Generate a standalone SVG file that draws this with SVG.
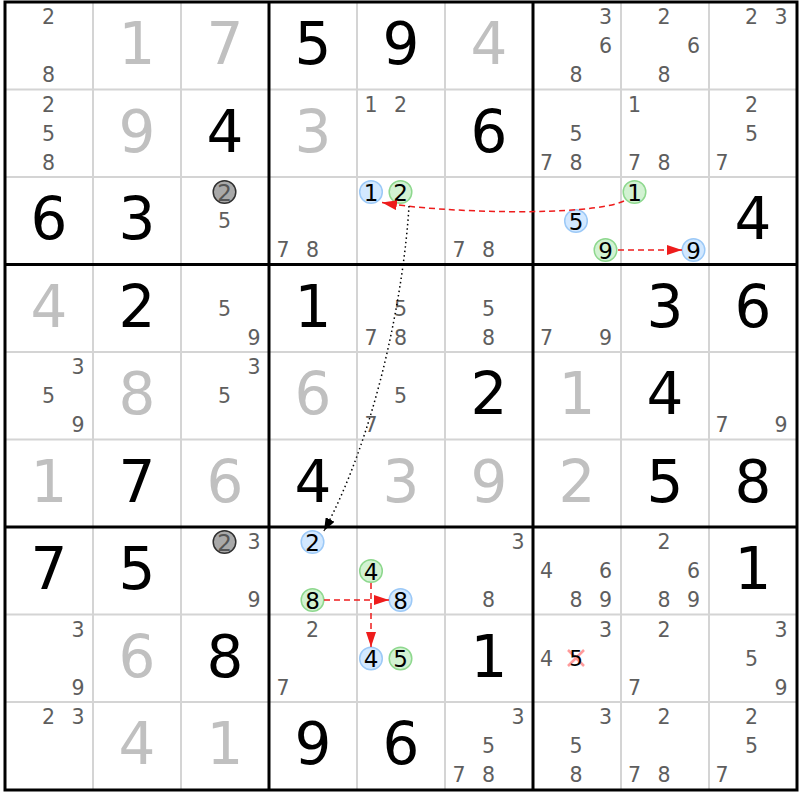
<svg xmlns="http://www.w3.org/2000/svg" width="800" height="800" viewBox="0 0 800 800">
<style>
text{font-family:"DejaVu Sans","Liberation Sans",sans-serif;text-anchor:middle}
.g{font-size:58px;fill:#c0c0c0}
.s{font-size:58px;fill:#000}
.c{font-size:20.5px;fill:#5e5e5e}
.k{font-size:23px;fill:#000}
.thin{stroke:#d4d4d4;stroke-width:2}
.thick{stroke:#000;stroke-width:3}
.bl{fill:#d2e8ff;stroke:#9cc9f7;stroke-width:1.5}
.gr{fill:#d2f2d2;stroke:#8ed88e;stroke-width:1.5}
.gy{fill:#a9a9a9;stroke:#303030;stroke-width:1.5}
.red{fill:none;stroke:#ee1c1c;stroke-width:1.5;stroke-dasharray:6,4}
.dot{fill:none;stroke:#000;stroke-width:1.5;stroke-dasharray:1.5,3}
</style>
<defs>
<marker id="ar" markerUnits="userSpaceOnUse" markerWidth="16" markerHeight="10" refX="15" refY="5" orient="auto"><path d="M0,0 L15,5 L0,10 z" fill="#ee1c1c"/></marker>
<marker id="ab" markerUnits="userSpaceOnUse" markerWidth="14" markerHeight="10" refX="13" refY="5" orient="auto"><path d="M0,0 L13,5 L0,10 z" fill="#000"/></marker>
</defs>
<rect x="0" y="0" width="800" height="800" fill="#fff"/>
<g id="grid">
<g class="thin">
<line x1="93" y1="2" x2="93" y2="790"/><line x1="181" y1="2" x2="181" y2="790"/>
<line x1="357" y1="2" x2="357" y2="790"/><line x1="445" y1="2" x2="445" y2="790"/>
<line x1="621" y1="2" x2="621" y2="790"/><line x1="709" y1="2" x2="709" y2="790"/>
<line x1="5" y1="89.5" x2="797" y2="89.5"/><line x1="5" y1="177" x2="797" y2="177"/>
<line x1="5" y1="352" x2="797" y2="352"/><line x1="5" y1="439.5" x2="797" y2="439.5"/>
<line x1="5" y1="614.5" x2="797" y2="614.5"/><line x1="5" y1="702" x2="797" y2="702"/>
</g>
<g class="thick">
<line x1="269" y1="2" x2="269" y2="790"/><line x1="533" y1="2" x2="533" y2="790"/>
<line x1="5" y1="264.5" x2="797" y2="264.5"/><line x1="5" y1="527" x2="797" y2="527"/>
<rect x="5" y="2" width="792" height="788" fill="none"/>
</g>
</g>
<g id="r0">
<text class="c" x="48.5" y="24">2</text><text class="c" x="48.5" y="82">8</text>
<text class="g" x="137" y="64">1</text><text class="g" x="225" y="64">7</text>
<text class="s" x="313" y="64">5</text><text class="s" x="401" y="64">9</text>
<text class="g" x="489" y="64">4</text>
<text class="c" x="605.5" y="24">3</text><text class="c" x="605.5" y="53">6</text><text class="c" x="576" y="82">8</text>
<text class="c" x="664" y="24">2</text><text class="c" x="693.5" y="53">6</text><text class="c" x="664" y="82">8</text>
<text class="c" x="751.5" y="24">2</text><text class="c" x="781" y="24">3</text>
</g>
<g id="r1">
<text class="c" x="48.5" y="111.5">2</text><text class="c" x="48.5" y="140.5">5</text><text class="c" x="48.5" y="169.5">8</text>
<text class="g" x="137" y="151.5">9</text><text class="s" x="225" y="151.5">4</text>
<text class="g" x="313" y="151.5">3</text>
<text class="c" x="371" y="111.5">1</text><text class="c" x="400.5" y="111.5">2</text>
<text class="s" x="489" y="151.5">6</text>
<text class="c" x="576" y="140.5">5</text><text class="c" x="546.5" y="169.5">7</text><text class="c" x="576" y="169.5">8</text>
<text class="c" x="634.5" y="111.5">1</text><text class="c" x="634.5" y="169.5">7</text><text class="c" x="664" y="169.5">8</text>
<text class="c" x="751.5" y="111.5">2</text><text class="c" x="751.5" y="140.5">5</text><text class="c" x="722" y="169.5">7</text>
</g>
<g id="r2">
<text class="s" x="49" y="239">6</text><text class="s" x="137" y="239">3</text>
<circle class="gy" cx="224.5" cy="192" r="11.3"/><text class="k" x="224.5" y="200.5" fill="#555" style="fill:#555">2</text>
<text class="c" x="224.5" y="228">5</text>
<text class="c" x="283" y="257">7</text><text class="c" x="312.5" y="257">8</text>
<circle class="bl" cx="371" cy="192" r="11.3"/><text class="k" x="371" y="200.5">1</text>
<circle class="gr" cx="400.5" cy="192" r="11.3"/><text class="k" x="400.5" y="200.5">2</text>
<text class="c" x="459" y="257">7</text><text class="c" x="488.5" y="257">8</text>
<circle class="bl" cx="576" cy="221" r="11.3"/><text class="k" x="576" y="229.5">5</text>
<circle class="gr" cx="605.5" cy="250" r="11.3"/><text class="k" x="605.5" y="258.5">9</text>
<circle class="gr" cx="634.5" cy="192" r="11.3"/><text class="k" x="634.5" y="200.5">1</text>
<circle class="bl" cx="693.5" cy="250" r="11.3"/><text class="k" x="693.5" y="258.5">9</text>
<text class="s" x="753" y="239">4</text>
</g>
<g id="r3">
<text class="g" x="49" y="326.5">4</text><text class="s" x="137" y="326.5">2</text>
<text class="c" x="224.5" y="315.5">5</text><text class="c" x="254" y="344.5">9</text>
<text class="s" x="313" y="326.5">1</text>
<text class="c" x="400.5" y="315.5">5</text><text class="c" x="371" y="344.5">7</text><text class="c" x="400.5" y="344.5">8</text>
<text class="c" x="488.5" y="315.5">5</text><text class="c" x="488.5" y="344.5">8</text>
<text class="c" x="546.5" y="344.5">7</text><text class="c" x="605.5" y="344.5">9</text>
<text class="s" x="665" y="326.5">3</text><text class="s" x="753" y="326.5">6</text>
</g>
<g id="r4">
<text class="c" x="78" y="374">3</text><text class="c" x="48.5" y="403">5</text><text class="c" x="78" y="432">9</text>
<text class="g" x="137" y="414">8</text>
<text class="c" x="254" y="374">3</text><text class="c" x="224.5" y="403">5</text>
<text class="g" x="313" y="414">6</text>
<text class="c" x="400.5" y="403">5</text><text class="c" x="371" y="432">7</text>
<text class="s" x="489" y="414">2</text><text class="g" x="577" y="414">1</text>
<text class="s" x="665" y="414">4</text>
<text class="c" x="722" y="432">7</text><text class="c" x="781" y="432">9</text>
</g>
<g id="r5">
<text class="g" x="49" y="501.5">1</text><text class="s" x="137" y="501.5">7</text>
<text class="g" x="225" y="501.5">6</text><text class="s" x="313" y="501.5">4</text>
<text class="g" x="401" y="501.5">3</text><text class="g" x="489" y="501.5">9</text>
<text class="g" x="577" y="501.5">2</text><text class="s" x="665" y="501.5">5</text>
<text class="s" x="753" y="501.5">8</text>
</g>
<g id="r6">
<text class="s" x="49" y="589">7</text><text class="s" x="137" y="589">5</text>
<circle class="gy" cx="224.5" cy="542" r="11.3"/><text class="k" x="224.5" y="550.5" style="fill:#555">2</text>
<text class="c" x="254" y="549">3</text><text class="c" x="254" y="607">9</text>
<circle class="bl" cx="312.5" cy="542" r="11.3"/><text class="k" x="312.5" y="550.5">2</text>
<circle class="gr" cx="312.5" cy="600" r="11.3"/><text class="k" x="312.5" y="608.5">8</text>
<circle class="gr" cx="371" cy="571" r="11.3"/><text class="k" x="371" y="579.5">4</text>
<circle class="bl" cx="400.5" cy="600" r="11.3"/><text class="k" x="400.5" y="608.5">8</text>
<text class="c" x="518" y="549">3</text><text class="c" x="488.5" y="607">8</text>
<text class="c" x="546.5" y="578">4</text><text class="c" x="605.5" y="578">6</text><text class="c" x="576" y="607">8</text><text class="c" x="605.5" y="607">9</text>
<text class="c" x="664" y="549">2</text><text class="c" x="693.5" y="578">6</text><text class="c" x="664" y="607">8</text><text class="c" x="693.5" y="607">9</text>
<text class="s" x="753" y="589">1</text>
</g>
<g id="r7">
<text class="c" x="78" y="636.5">3</text><text class="c" x="78" y="694.5">9</text>
<text class="g" x="137" y="676.5">6</text><text class="s" x="225" y="676.5">8</text>
<text class="c" x="312.5" y="636.5">2</text><text class="c" x="283" y="694.5">7</text>
<circle class="bl" cx="371" cy="658.5" r="11.3"/><text class="k" x="371" y="667">4</text>
<circle class="gr" cx="400.5" cy="658.5" r="11.3"/><text class="k" x="400.5" y="667">5</text>
<text class="s" x="489" y="676.5">1</text>
<text class="c" x="605.5" y="636.5">3</text><text class="c" x="546.5" y="665.5">4</text>
<g id="elim"><path d="M568,650 L584,666 M584,650 L568,666" stroke="#ff8a8a" stroke-width="2.5" opacity="0.85"/><text class="k" x="576" y="666" style="font-size:21.5px">5</text></g>
<text class="c" x="664" y="636.5">2</text><text class="c" x="634.5" y="694.5">7</text>
<text class="c" x="781" y="636.5">3</text><text class="c" x="751.5" y="665.5">5</text><text class="c" x="781" y="694.5">9</text>
</g>
<g id="r8">
<text class="c" x="48.5" y="724">2</text><text class="c" x="78" y="724">3</text>
<text class="g" x="137" y="764">4</text><text class="g" x="225" y="764">1</text>
<text class="s" x="313" y="764">9</text><text class="s" x="401" y="764">6</text>
<text class="c" x="518" y="724">3</text><text class="c" x="488.5" y="753">5</text><text class="c" x="459" y="782">7</text><text class="c" x="488.5" y="782">8</text>
<text class="c" x="605.5" y="724">3</text><text class="c" x="576" y="753">5</text><text class="c" x="576" y="782">8</text>
<text class="c" x="664" y="724">2</text><text class="c" x="634.5" y="782">7</text><text class="c" x="664" y="782">8</text>
<text class="c" x="751.5" y="724">2</text><text class="c" x="751.5" y="753">5</text><text class="c" x="722" y="782">7</text>
</g>
<g id="connectors">
<path class="red" d="M624,201 C590,217 440,213 382,202.5" marker-end="url(#ar)"/>
<path class="red" d="M618,250 L682,250" marker-end="url(#ar)"/>
<path class="red" d="M324,600 L389,600" marker-end="url(#ar)"/>
<path class="red" d="M371,583 L371,647" marker-end="url(#ar)"/>
<path class="dot" d="M409,206 C404,290 378,430 324,531" marker-end="url(#ab)"/>
</g>
</svg>
